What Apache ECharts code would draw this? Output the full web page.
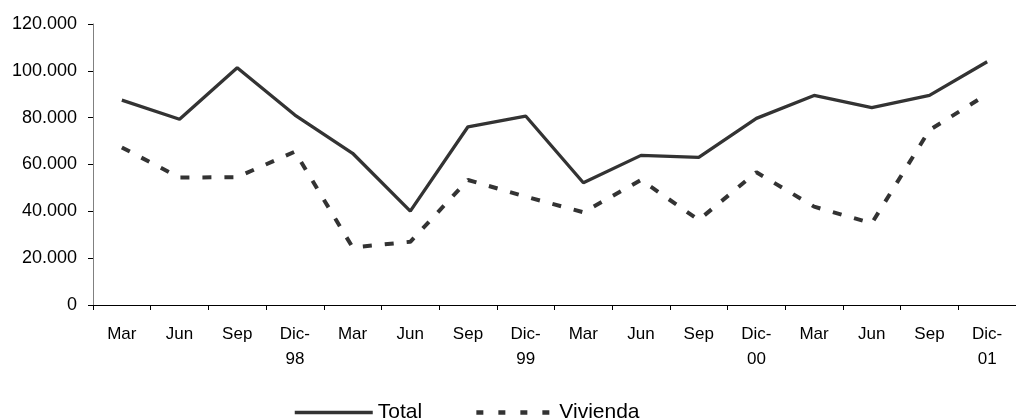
<!DOCTYPE html>
<html>
<head>
<meta charset="utf-8">
<script src="https://cdn.jsdelivr.net/npm/echarts@6/dist/echarts.min.js"></script>
<style>
html,body{margin:0;padding:0;background:#fff;}
#chart{width:1016px;height:420px;}
</style>
</head>
<body>
<div id="chart"></div>
<script>
const categories = ['Mar','Jun','Sep','Dic-\n98','Mar','Jun','Sep','Dic-\n99','Mar','Jun','Sep','Dic-\n00','Mar','Jun','Sep','Dic-\n01'];
const total = [87500, 79300, 101300, 81100, 64800, 40100, 76100, 80700, 52200, 63900, 63000, 79700, 89500, 84300, 89500, 103900];
const vivienda = [67300, 54400, 54600, 65500, 24600, 27000, 53400, 46300, 39600, 53400, 36300, 56700, 42000, 34900, 74700, 90000];
const yTicks = {min: 0, max: 120000, interval: 20000};

function fmt(v){
  return String(Math.round(v)).replace(/\B(?=(\d{3})+(?!\d))/g, '.');
}

const FONT = 'Liberation Sans, Arial, sans-serif';
const chart = echarts.init(document.getElementById('chart'));
chart.setOption({
  animation: false,
  textStyle: {fontFamily: FONT},
  grid: {left: 93, right: -9, top: 24, bottom: 115, containLabel: false},
  legend: {
    left: 288, top: 397,
    itemWidth: 78, itemHeight: 14, itemGap: 52,
    itemStyle: {opacity: 0},
    textStyle: {fontSize: 21, color: '#000', fontFamily: FONT},
    data: [
      {name: 'Total', lineStyle: {color: '#333', width: 3.5, type: 'solid'}},
      {name: 'Vivienda', lineStyle: {color: '#333', width: 4.5, type: [7, 15]}}
    ]
  },
  xAxis: {
    type: 'category',
    data: categories,
    boundaryGap: true,
    axisLine: {lineStyle: {color: '#000', width: 1}},
    axisTick: {show: true, length: 5, lineStyle: {color: '#000'}},
    axisLabel: {color: '#000', fontSize: 17, margin: 17, lineHeight: 25, interval: 0},
    splitLine: {show: false}
  },
  yAxis: {
    type: 'value',
    min: yTicks.min, max: yTicks.max, interval: yTicks.interval,
    axisLine: {show: true, lineStyle: {color: '#808080', width: 1}},
    axisTick: {show: true, length: 5, lineStyle: {color: '#000'}},
    axisLabel: {color: '#000', fontSize: 18, margin: 16, formatter: fmt},
    splitLine: {show: false}
  },
  series: [
    {
      name: 'Total', type: 'line', data: total,
      symbol: 'none', showSymbol: false,
      lineStyle: {color: '#333', width: 3.3, type: 'solid'},
      itemStyle: {color: '#333'}
    },
    {
      name: 'Vivienda', type: 'line', data: vivienda,
      symbol: 'none', showSymbol: false,
      lineStyle: {color: '#333', width: 4, type: [9, 13]},
      itemStyle: {color: '#333'}
    }
  ]
});
</script>
</body>
</html>
